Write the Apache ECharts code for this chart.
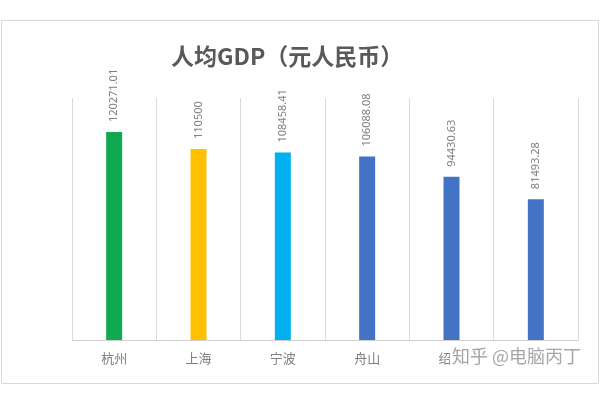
<!DOCTYPE html>
<html>
<head>
<meta charset="utf-8">
<script src="https://cdn.jsdelivr.net/npm/echarts@6/dist/echarts.min.js"></script>
<style>html,body{margin:0;padding:0;background:#fff}#c{width:600px;height:400px}</style>
</head>
<body>
<div id="c"></div>
<script>
const categories = ['杭州', '上海', '宁波', '舟山', '绍兴', '嘉兴'];
const values = [120271.01, 110500, 108458.41, 106088.08, 94430.63, 81493.28];
const barColors = ['#0FAA4F', '#FFC000', '#00B0F0', '#4472C4', '#4472C4', '#4472C4'];
const yMax = 140000;

const chart = echarts.init(document.getElementById('c'));
chart.setOption({
  backgroundColor: '#fff',
  animation: false,
  title: {
    text: '人均GDP（元人民币）',
    left: 166, top: 40,
    textStyle: { fontFamily: 'Noto Sans CJK SC', fontSize: 23, fontWeight: 'bold', color: '#595959' }
  },
  graphic: [
    { type: 'rect', shape: { x: 1.5, y: 20.5, width: 597, height: 363 },
      style: { fill: 'none', stroke: '#d9d9d9', lineWidth: 1 }, z: -1 },
    { type: 'text', left: 450, top: 347, z: 100,
      style: { text: '知乎 @电脑丙丁', fontFamily: 'Noto Sans CJK SC', fontSize: 18, fill: '#a6a6a6',
        backgroundColor: '#fff', padding: [0, 2] } }
  ],
  grid: { left: 72, right: 22, top: 98, bottom: 60 },
  xAxis: {
    type: 'category', data: categories, boundaryGap: true,
    axisLine: { lineStyle: { color: '#d0d0d0' } },
    axisTick: { show: false },
    splitLine: { show: true, lineStyle: { color: '#d9d9d9' } },
    axisLabel: { color: '#7f7f7f', fontSize: 13, margin: 12, fontFamily: 'Noto Sans CJK SC' }
  },
  yAxis: { type: 'value', min: 0, max: yMax, show: false, splitLine: { show: false } },
  series: [{
    type: 'bar', barWidth: 16,
    data: values.map((v, i) => ({ value: v, itemStyle: { color: barColors[i] } })),
    label: {
      show: true, position: 'top', rotate: 90, align: 'left', verticalAlign: 'middle',
      distance: 10, color: '#7f7f7f', fontSize: 11, fontFamily: 'Noto Sans',
      formatter: p => String(p.value)
    }
  }]
});
</script>
</body>
</html>
